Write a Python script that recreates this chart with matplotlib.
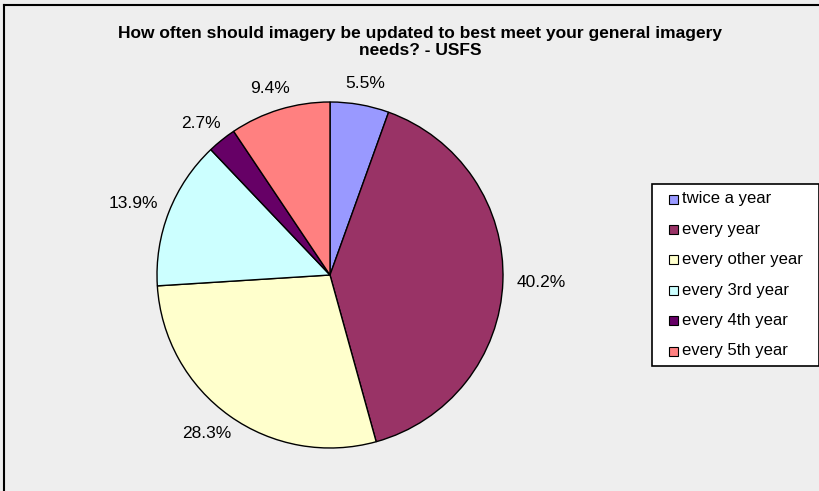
import numpy as np
import matplotlib
matplotlib.use("Agg")
import matplotlib.pyplot as plt
from matplotlib.patches import Rectangle

plt.rcParams["font.family"] = ["Liberation Sans", "DejaVu Sans"]

# ------------------------------------------------------------
#  Data
# ------------------------------------------------------------
title = "How often should imagery be updated to best meet your general imagery\nneeds? - USFS"
categories = ["twice a year", "every year", "every other year",
              "every 3rd year", "every 4th year", "every 5th year"]
shares = [5.5, 40.2, 28.3, 13.9, 2.7, 9.4]
colors = ["#9999FF", "#993366", "#FFFFCC", "#CCFFFF", "#660066", "#FF8080"]

W, H = 820, 491
BG = "#EEEEEE"

fig = plt.figure(figsize=(W / 100, H / 100), dpi=100, facecolor=BG)

# outer chart border (top / left visible)
fig.add_artist(plt.Line2D([4 / W, 1], [1 - 5 / H, 1 - 5 / H], color="black", lw=1.5))
fig.add_artist(plt.Line2D([4 / W, 4 / W], [0, 1 - 5 / H], color="black", lw=1.5))

fig.text(420 / W, 1 - 42 / H, title, ha="center", va="center",
         fontsize=12.5, fontweight="bold", linespacing=1.15)

# ------------------------------------------------------------
#  Pie
# ------------------------------------------------------------
cx, cy, R = 330, 275, 173
ax = fig.add_axes([(cx - R) / W, (H - cy - R) / H, 2 * R / W, 2 * R / H])

wedges, _ = ax.pie(shares, colors=colors, startangle=90, counterclock=False,
                   radius=1, wedgeprops=dict(edgecolor="black", linewidth=1.0))
ax.set_xlim(-1, 1); ax.set_ylim(-1, 1)
ax.axis("off")

# labels outside, box edge at a fixed gap from the circle (Excel style)
gap = 14 / R
anns = []
for w, v in zip(wedges, shares):
    ang = np.deg2rad((w.theta1 + w.theta2) / 2)
    a = ax.annotate(f"{v:.1f}%", xy=((1 + gap) * np.cos(ang), (1 + gap) * np.sin(ang)),
                    xytext=(0, 0), textcoords="offset pixels",
                    ha="center", va="center", fontsize=12.5, annotation_clip=False)
    anns.append((a, ang))

fig.canvas.draw()
rend = fig.canvas.get_renderer()
for a, ang in anns:
    bb = a.get_window_extent(rend)
    a.xyann = (bb.width / 2 * np.cos(ang), bb.height / 2 * np.sin(ang))

# ------------------------------------------------------------
#  Legend (drawn in figure pixels)
# ------------------------------------------------------------
lx0, ly0, lx1, ly1 = 652, 184, 819, 366
fig.add_artist(Rectangle((lx0 / W, 1 - ly1 / H), (lx1 - lx0) / W, (ly1 - ly0) / H,
                         transform=fig.transFigure, facecolor="white",
                         edgecolor="black", lw=1.2))
step = 30.4
for i, (lab, c) in enumerate(zip(categories, colors)):
    yc = 199 + i * step
    fig.add_artist(Rectangle((669 / W, 1 - (yc + 4.5) / H), 9 / W, 9 / H,
                             transform=fig.transFigure, facecolor=c,
                             edgecolor="black", lw=0.8))
    fig.text(682 / W, 1 - yc / H, lab, ha="left", va="center", fontsize=12)

fig.savefig("out.png", dpi=100, facecolor=BG)
